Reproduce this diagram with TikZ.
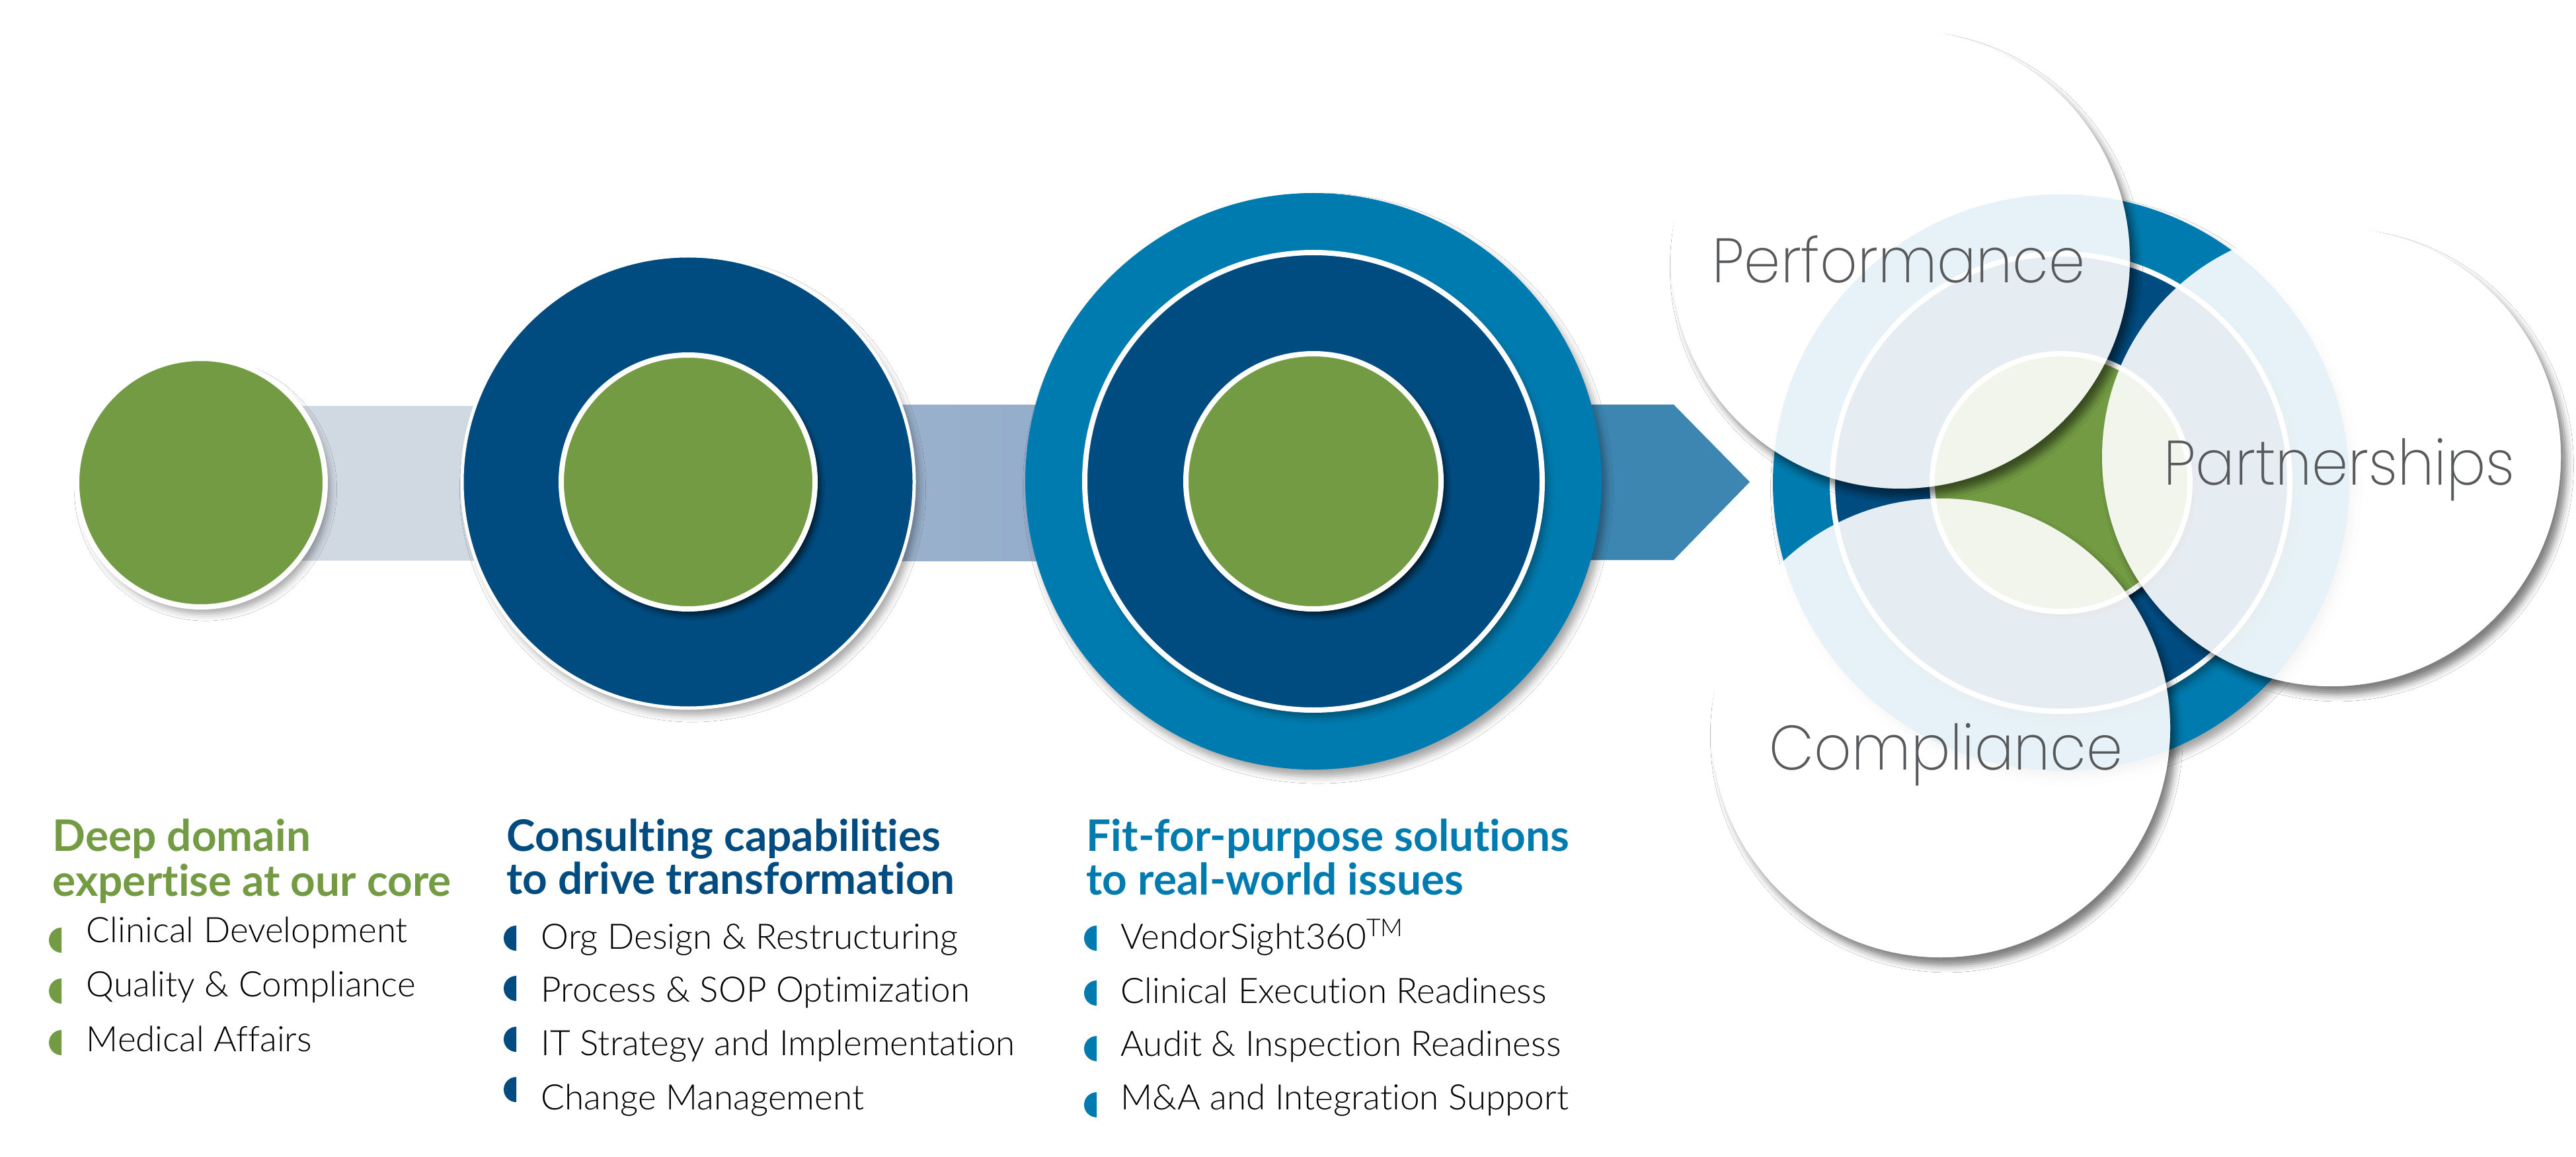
\documentclass[tikz,border=0pt]{standalone}
\usepackage{fontspec}
\setmainfont{Lato}[Ligatures=NoCommon]
\IfFontExistsTF{Lato Light}{\newfontfamily\itemfont{Lato Light}[Ligatures=NoCommon]}{\newfontfamily\itemfont{Lato}[Ligatures=NoCommon]}
\newfontfamily\headfont{Lato}[Ligatures=NoCommon]
\IfFontExistsTF{Poppins ExtraLight}{\newfontfamily\labelfont{Poppins ExtraLight}[FakeStretch=0.93]}{%
  \IfFontExistsTF{Poppins Light}{\newfontfamily\labelfont{Poppins Light}[FakeStretch=0.93]}{\newfontfamily\labelfont{Poppins}[FakeStretch=0.93]}}
\usetikzlibrary{shadows.blur}

\definecolor{leafgreen}{HTML}{739B43}
\definecolor{navy}{HTML}{004B7F}
\definecolor{ocean}{HTML}{007BAF}
\definecolor{bandpale}{HTML}{D0D8E2}
\definecolor{bandmidA}{HTML}{A2B6CF}
\definecolor{bandmidB}{HTML}{8AA7C7}
\definecolor{arrowblue}{HTML}{3D86B2}
\definecolor{labelgray}{HTML}{58595B}

\tikzset{
  disc/.style={circle, inner sep=0pt, outer sep=0pt},
  softshadow/.style={blur shadow={shadow xshift=2pt, shadow yshift=-3pt, shadow blur radius=3pt, shadow opacity=35}},
  darkshadow/.style={blur shadow={shadow xshift=2pt, shadow yshift=-2.5pt, shadow blur radius=2.5pt, shadow opacity=70}},
  vennshadow/.style={disc, fill=white, minimum size=6.94cm, blur shadow={shadow xshift=2.5pt, shadow yshift=-3.5pt, shadow blur radius=3pt, shadow opacity=50}},
  ringed/.style={draw=white, line width=0.08cm},
  venn/.style={disc, fill=white, fill opacity=0.9, minimum size=6.94cm},
  heading/.style={anchor=base west, inner sep=0pt, font=\headfont\bfseries\fontsize{18.7}{22}\selectfont},
  itemtext/.style={anchor=base west, inner sep=0pt, font=\itemfont\fontsize{15.1}{18}\selectfont},
  venntext/.style={anchor=base west, inner sep=0pt, text=labelgray, font=\labelfont\fontsize{27}{32}\selectfont},
}

\begin{document}
\begin{tikzpicture}
\useasboundingbox (0,0) rectangle (38.97,-17.5);
\fill[white] (0,0) rectangle (38.97,-17.5);

% bands behind the circles
\fill[bandpale] (3.0,-6.14) rectangle (10.4,-8.48);
\fill[left color=bandmidA, right color=bandmidB] (10.4,-6.13) rectangle (19.9,-8.48);
\fill[arrowblue] (19.9,-6.12) -- (25.32,-6.12) -- (26.47,-7.29) -- (25.32,-8.47) -- (19.9,-8.47) -- cycle;

% first step
\node[disc, ringed, fill=leafgreen, minimum size=3.76cm, softshadow] (c1) at (3.04,-7.30) {};

% second step
\node[disc, draw=white, line width=0.05cm, fill=navy, minimum size=6.84cm, softshadow] (c2out) at (10.41,-7.29) {};
\node[disc, ringed, fill=leafgreen, minimum size=3.84cm, darkshadow] (c2in) at (10.41,-7.29) {};

% third step
\node[disc, fill=ocean, minimum size=8.72cm, softshadow] (c3out) at (19.87,-7.28) {};
\node[disc, ringed, fill=navy, minimum size=6.92cm, softshadow] (c3mid) at (19.87,-7.28) {};
\node[disc, ringed, fill=leafgreen, minimum size=3.86cm, darkshadow] (c3in) at (19.87,-7.28) {};

% hub on the right
\node[disc, fill=ocean, minimum size=8.72cm, softshadow] (hubout) at (31.18,-7.30) {};
\node[disc, ringed, fill=navy, minimum size=6.92cm, softshadow] (hubmid) at (31.18,-7.30) {};
\node[disc, ringed, fill=leafgreen, minimum size=3.90cm, darkshadow] (hubin) at (31.18,-7.30) {};

% shadows of the white circles, only outside them
\begin{scope}[even odd rule]
\clip (0,0) rectangle (38.97,-17.5) (28.75,-3.92) circle (3.47);
\node[vennshadow] (perfshade) at (28.75,-3.92) {};
\end{scope}
\begin{scope}[even odd rule]
\clip (0,0) rectangle (38.97,-17.5) (35.27,-6.91) circle (3.47);
\node[vennshadow] (partshade) at (35.27,-6.91) {};
\end{scope}
\begin{scope}[even odd rule]
\clip (0,0) rectangle (38.97,-17.5) (29.36,-11.01) circle (3.47);
\node[vennshadow] (compshade) at (29.36,-11.01) {};
\end{scope}

\node[venn] (perf) at (28.75,-3.92) {};
\node[venn] (part) at (35.27,-6.91) {};
\node[venn] (comp) at (29.36,-11.01) {};

\node[venntext] (tperf) at (25.90,-4.28) {Performance};
\node[venntext] (tpart) at (32.73,-7.34) {Partnerships};
\node[venntext] (tcomp) at (26.76,-11.64) {Compliance};

% first column
\node[heading, text=leafgreen] (h1a) at (0.79,-12.87) {Deep domain};
\node[heading, text=leafgreen] (h1b) at (0.79,-13.55) {expertise at our core};
\fill[leafgreen] (0.93,-14.03) arc (90:270:0.19) -- cycle;
\fill[leafgreen] (0.93,-14.80) arc (90:270:0.19) -- cycle;
\fill[leafgreen] (0.93,-15.58) arc (90:270:0.19) -- cycle;
\node[itemtext] (i1a) at (1.30,-14.25) {Clinical Development};
\node[itemtext] (i1b) at (1.30,-15.07) {Quality \& Compliance};
\node[itemtext] (i1c) at (1.30,-15.90) {Medical Affairs};

% second column
\node[heading, text=navy] (h2a) at (7.66,-12.87) {Consulting capabilities};
\node[heading, text=navy] (h2b) at (7.66,-13.52) {to drive transformation};
\fill[navy] (7.81,-14.00) arc (90:270:0.19) -- cycle;
\fill[navy] (7.81,-14.76) arc (90:270:0.19) -- cycle;
\fill[navy] (7.81,-15.53) arc (90:270:0.19) -- cycle;
\fill[navy] (7.81,-16.29) arc (90:270:0.19) -- cycle;
\node[itemtext] (i2a) at (8.18,-14.35) {Org Design \& Restructuring};
\node[itemtext] (i2b) at (8.18,-15.15) {Process \& SOP Optimization};
\node[itemtext] (i2c) at (8.18,-15.96) {IT Strategy and Implementation};
\node[itemtext] (i2d) at (8.18,-16.78) {Change Management};

% third column
\node[heading, text=ocean] (h3a) at (16.43,-12.87) {Fit-for-purpose solutions};
\node[heading, text=ocean] (h3b) at (16.43,-13.53) {to real-world issues};
\fill[ocean] (16.59,-14.00) arc (90:270:0.19) -- cycle;
\fill[ocean] (16.59,-14.83) arc (90:270:0.19) -- cycle;
\fill[ocean] (16.59,-15.67) arc (90:270:0.19) -- cycle;
\fill[ocean] (16.59,-16.52) arc (90:270:0.19) -- cycle;
\node[itemtext] (i3a) at (16.95,-14.35) {VendorSight360\textsuperscript{TM}};
\node[itemtext] (i3b) at (16.95,-15.17) {Clinical Execution Readiness};
\node[itemtext] (i3c) at (16.95,-15.97) {Audit \& Inspection Readiness};
\node[itemtext] (i3d) at (16.95,-16.78) {M\&A and Integration Support};

\end{tikzpicture}
\end{document}
